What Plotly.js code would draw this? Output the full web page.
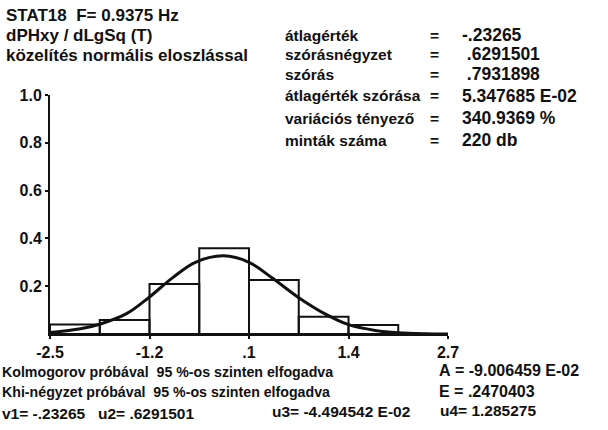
<!DOCTYPE html>
<html>
<head>
<meta charset="utf-8">
<script src="https://cdn.plot.ly/plotly-3.0.1.min.js"></script>
<style>html,body{margin:0;padding:0;background:#fff;}#chart{width:608px;height:430px;}</style>
</head>
<body>
<div id="chart"></div>
<script>
// ---- data ----
const binCenters = [-2.175, -1.525, -0.875, -0.225, 0.425, 1.075, 1.725];
const binWidth = 0.65;
const relFreq = [0.040, 0.059, 0.209, 0.359, 0.226, 0.072, 0.038];

const curveX = [-2.5, -2.1, -1.85, -1.5, -1.2, -0.9, -0.6, -0.23, 0.1, 0.4, 0.75, 1.1, 1.4, 1.75, 2.05, 2.4, 2.7];
const curveY = [0.006, 0.022, 0.041, 0.085, 0.155, 0.235, 0.300, 0.327, 0.300, 0.235, 0.152, 0.083, 0.039, 0.015, 0.005, 0.001, 0.0003];

const xTickVals = [-2.5, -1.2, 0.1, 1.4, 2.7];
const xTickText = ["-2.5", "-1.2", ".1", "1.4", "2.7"];
const yTickVals = [0.2, 0.4, 0.6, 0.8, 1.0];
const yTickText = ["0.2", "0.4", "0.6", "0.8", "1.0"];

const headerLines = ["STAT18  F= 0.9375 Hz", "dPHxy / dLgSq (T)", "közelítés normális eloszlással"];
const statLabels = ["átlagérték", "szórásnégyzet", "szórás", "átlagérték szórása", "variációs tényező", "minták száma"];
const statValues = ["-.23265", " .6291501", " .7931898", "5.347685 E-02", "340.9369 %", "220 db"];
const testLines = ["Kolmogorov próbával  95 %-os szinten elfogadva", "Khi-négyzet próbával  95 %-os szinten elfogadva"];
const sideLines = ["A = -9.006459 E-02", "E = .2470403"];
const momentLabels = ["v1= -.23265", "u2= .6291501", "u3= -4.494542 E-02", "u4= 1.285275"];

// ---- layout helpers ----
const W = 608, H = 430;
const L = 50, R = 448, T = 95, B = 334;
const FONT = "Liberation Sans, Arial, sans-serif";
function px(x) { return (x - L) / (R - L); }
function py(y) { return (B - y) / (B - T); }
function nb(s) { return s.replace(/ /g, "\u00a0"); }
function ann(text, x, y, size, anchor) {
  return {
    text: nb(text), xref: "paper", yref: "paper", x: px(x), y: py(y),
    xanchor: anchor || "left", yanchor: "middle", showarrow: false,
    font: {family: FONT, size: size, color: "#111", weight: 700}
  };
}

const annotations = [];
const headerY = [15, 35, 56];
headerLines.forEach((t, i) => annotations.push(ann(t, 4, headerY[i], 17)));
const statY = [35, 54, 74, 96, 118, 140];
statLabels.forEach((t, i) => {
  annotations.push(ann(t, 283, statY[i], 15.5));
  annotations.push(ann("=", 428, statY[i], 15.5));
  annotations.push(ann(statValues[i], 460, statY[i], 17.5));
});
const testY = [372, 392];
testLines.forEach((t, i) => annotations.push(ann(t, 0, testY[i], 14.2)));
const sideY = [370, 391];
sideLines.forEach((t, i) => annotations.push(ann(t, 437, sideY[i], 16)));
const momX = [0, 96, 270, 438];
const momY = [413, 413, 411, 410];
momentLabels.forEach((t, i) => annotations.push(ann(t, momX[i], momY[i], 15.5)));

const traces = [
  {
    type: "bar", x: binCenters, y: relFreq, width: binWidth,
    marker: {color: "rgba(255,255,255,0)", line: {color: "#111", width: 2}},
    hoverinfo: "skip"
  },
  {
    type: "scatter", mode: "lines", x: curveX, y: curveY,
    line: {color: "#111", width: 3, shape: "spline", smoothing: 1.0},
    hoverinfo: "skip"
  }
];

const layout = {
  width: W, height: H,
  margin: {l: L, r: W - R, t: T, b: H - B, pad: 0},
  paper_bgcolor: "#fff", plot_bgcolor: "#fff",
  showlegend: false,
  bargap: 0,
  xaxis: {
    range: [-2.5, 2.7], showgrid: false, zeroline: false,
    showline: true, linecolor: "#111", linewidth: 2,
    tickmode: "array", tickvals: xTickVals, ticktext: xTickText,
    ticks: "outside", ticklen: 3, tickwidth: 2, tickcolor: "#111",
    tickfont: {family: FONT, size: 16, color: "#111", weight: 700},
    fixedrange: true
  },
  yaxis: {
    range: [0, 1.0], showgrid: false, zeroline: false,
    showline: true, linecolor: "#111", linewidth: 2,
    tickmode: "array", tickvals: yTickVals, ticktext: yTickText,
    ticks: "outside", ticklen: 3, tickwidth: 2, tickcolor: "#111",
    tickfont: {family: FONT, size: 16, color: "#111", weight: 700},
    fixedrange: true
  },
  annotations: annotations
};

Plotly.newPlot("chart", traces, layout, {displayModeBar: false, staticPlot: true});
</script>
</body>
</html>
